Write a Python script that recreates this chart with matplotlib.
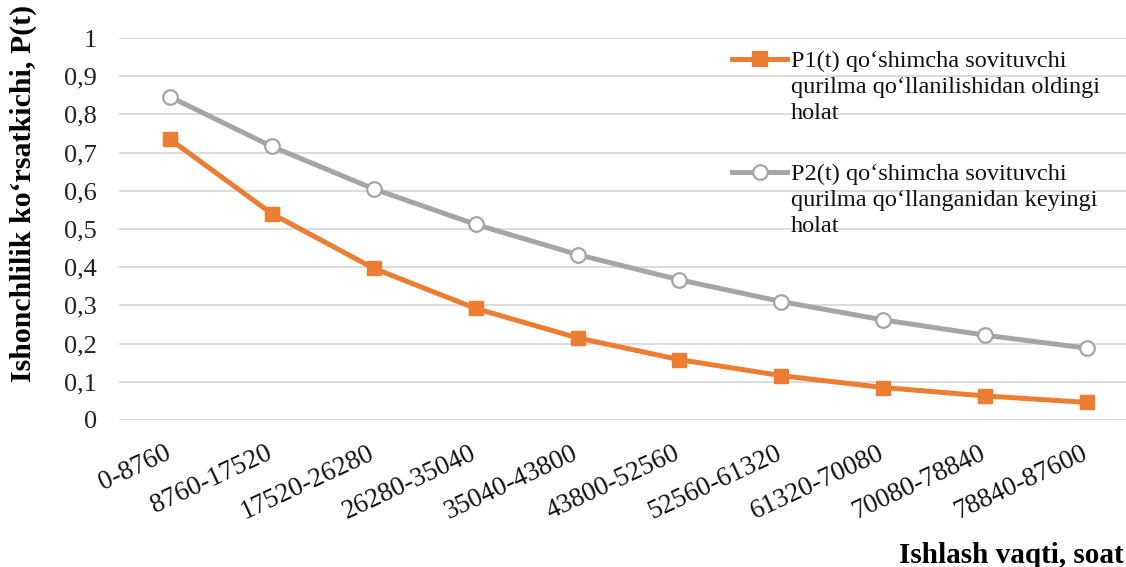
import numpy as np
import matplotlib.pyplot as plt
import matplotlib.transforms as mtransforms
from matplotlib.lines import Line2D

plt.rcParams['font.family'] = ['Liberation Serif', 'DejaVu Serif']

intervals = ['0-8760', '8760-17520', '17520-26280', '26280-35040', '35040-43800',
             '43800-52560', '52560-61320', '61320-70080', '70080-78840', '78840-87600']
p1 = [0.735, 0.540, 0.397, 0.292, 0.215, 0.158, 0.116, 0.085, 0.063, 0.046]
p2 = [0.846, 0.716, 0.605, 0.512, 0.433, 0.367, 0.310, 0.262, 0.222, 0.188]
yticks = [0, 0.1, 0.2, 0.3, 0.4, 0.5, 0.6, 0.7, 0.8, 0.9, 1]

label_p1 = 'P1(t) qo\u2018shimcha sovituvchi\nqurilma qo\u2018llanilishidan oldingi\nholat'
label_p2 = 'P2(t) qo\u2018shimcha sovituvchi\nqurilma qo\u2018llanganidan keyingi\nholat'

orange = '#ED7D31'
grey = '#A5A5A5'

W, H = 1126, 567
fig = plt.figure(figsize=(W / 100, H / 100), dpi=100)


def px(x, y):
    # pixel position (from top-left) -> figure fraction
    return x / W, 1 - y / H


ax = fig.add_axes([119 / W, (H - 420) / H, 1019 / W, 382 / H])
x = np.arange(len(intervals))

ax.plot(x, p1, color=orange, lw=3.6, marker='s', ms=10.5, mfc=orange, mec=orange,
        clip_on=False, zorder=3)
ax.plot(x, p2, color=grey, lw=3.6, marker='o', ms=10.5, mfc='white', mec=grey, mew=1.6,
        clip_on=False, zorder=3)

ax.set_xlim(-0.5, len(intervals) - 0.5)
ax.set_ylim(0, 1)
ax.set_yticks(yticks)
ax.set_yticklabels([('%g' % v).replace('.', ',') for v in yticks], fontsize=19, color='#222222')
ax.set_xticks(x)
ax.set_xticklabels(intervals, rotation=25, ha='right', rotation_mode='anchor',
                   fontsize=19.5, color='#111111')
ax.tick_params(axis='both', length=0)
ax.tick_params(axis='y', pad=16)
ax.tick_params(axis='x', pad=15)
shift = mtransforms.ScaledTranslation(-6 / 100, 0, fig.dpi_scale_trans)
for lab in ax.get_xticklabels():
    lab.set_transform(lab.get_transform() + shift)
ax.grid(axis='y', color='#D9D9D9', lw=1.3)
ax.set_axisbelow(True)
for s in ax.spines.values():
    s.set_visible(False)

# legend drawn by hand so the handle sits on the first text line
for yy, col, mk, face, txt in [(59, orange, 's', orange, label_p1),
                               (172, grey, 'o', 'white', label_p2)]:
    x0, y0 = px(732, yy)
    x1, _ = px(787, yy)
    xm, _ = px(760, yy)
    fig.add_artist(Line2D([x0, x1], [y0, y0], color=col, lw=3.6, transform=fig.transFigure))
    fig.add_artist(Line2D([xm], [y0], marker=mk, ms=10.5, mfc=face, mec=col, mew=1.6,
                          color=col, transform=fig.transFigure))
    tx, ty = px(791, yy - 8)
    fig.text(tx, ty, txt, fontsize=17.5, va='top', ha='left', linespacing=1.3, color='#111111')

lx, ly = px(23, 382)
fig.text(lx, ly, 'Ishonchlilik ko\u2018rsatkichi, P(t)', rotation=90, ha='center', va='bottom',
         fontsize=21.5, fontweight='bold')
bx, by = px(1124, 563)
fig.text(bx, by, 'Ishlash vaqti, soat', ha='right', va='baseline', fontsize=21, fontweight='bold')

fig.savefig('out.png', dpi=100)
